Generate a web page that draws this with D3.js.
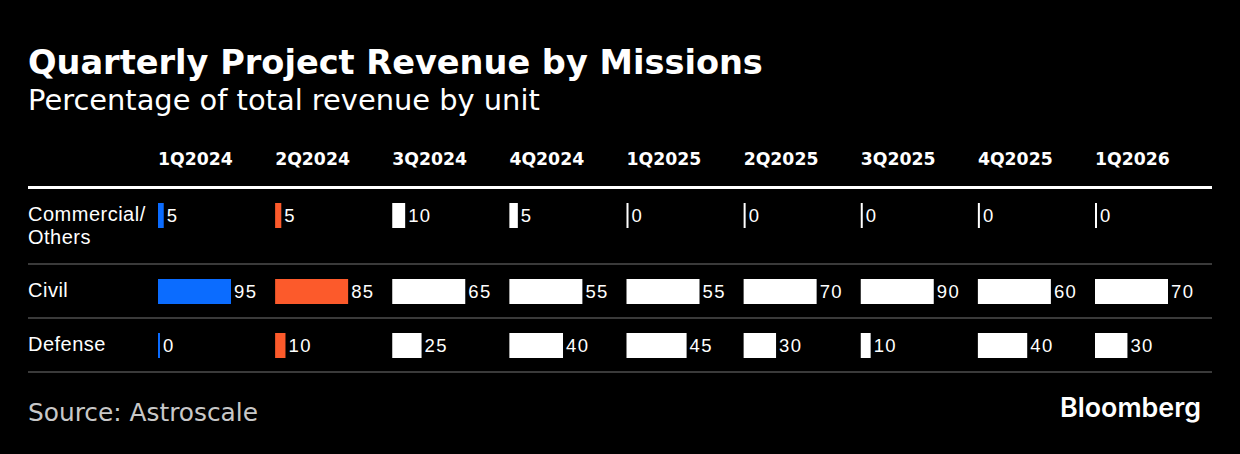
<!DOCTYPE html>
<html>
<head>
<meta charset="utf-8">
<script src="https://cdn.jsdelivr.net/npm/d3@7"></script>
<style>
  html, body { margin: 0; padding: 0; background: #000; }
  svg { display: block; }
</style>
</head>
<body>
<svg id="chart" width="1240" height="454"></svg>
<script>
// ---------- data ----------
const quarters = ["1Q2024", "2Q2024", "3Q2024", "4Q2024", "1Q2025", "2Q2025", "3Q2025", "4Q2025", "1Q2026"];
const units = ["Commercial/Others", "Civil", "Defense"];
const unitLabels = [["Commercial/", "Others"], ["Civil"], ["Defense"]];
const commercial = [5, 5, 10, 5, 0, 0, 0, 0, 0];
const civil = [95, 85, 65, 55, 55, 70, 90, 60, 70];
const defense = [0, 10, 25, 40, 45, 30, 10, 40, 30];
const series = [commercial, civil, defense];

const titleText = "Quarterly Project Revenue by Missions";
const subtitleText = "Percentage of total revenue by unit";
const sourceText = "Source: Astroscale";

// ---------- styles ----------
const columnColors = ["#0b6cff", "#fc5a2b"];
const defaultColor = "#ffffff";

(function () {
const svg = d3.select("#chart");
svg.append("rect").attr("width", 1240).attr("height", 454).attr("fill", "#000");

function fitText(sel, targetWidth) {
  const node = sel.node();
  const fs = parseFloat(sel.attr("font-size"));
  const w = node.getComputedTextLength();
  if (w > 0) sel.attr("font-size", (fs * targetWidth / w).toFixed(2));
  return sel;
}

// Title / subtitle
fitText(svg.append("text").text(titleText)
  .attr("x", 28).attr("y", 74)
  .attr("font-family", "DejaVu Sans").attr("font-weight", "bold")
  .attr("font-size", 32).attr("fill", "#fff"), 735);

fitText(svg.append("text").text(subtitleText)
  .attr("x", 28).attr("y", 110)
  .attr("font-family", "DejaVu Sans")
  .attr("font-size", 28).attr("fill", "#fff"), 512);

// ---------- layout ----------
const left = 28, right = 1212;
const x = d3.scalePoint().domain(quarters).range([158, 1095]);
const barMax = 71;
const barH = 25;

// Column headers
svg.append("g").selectAll("text").data(quarters).join("text")
  .attr("x", d => x(d)).attr("y", 165)
  .attr("font-family", "DejaVu Sans, sans-serif")
  .attr("font-weight", "bold").attr("font-size", 17.3)
  .attr("fill", "#fff")
  .text(d => d);

// Header rule
svg.append("rect").attr("x", left).attr("y", 186).attr("width", right - left).attr("height", 3).attr("fill", "#fff");

// Row layout
const rowTop0 = 188;
const baseRowH = 54, extraLine = 22;
const rows = [];
let yTop = rowTop0;
units.forEach((u, i) => {
  const h = baseRowH + (unitLabels[i].length - 1) * extraLine;
  rows.push({ unit: u, i, top: yTop, h, center: yTop + 27.5 });
  yTop += h;
});

// Separators
svg.append("g").selectAll("rect").data(rows).join("rect")
  .attr("x", left).attr("width", right - left)
  .attr("y", d => d.top + d.h - 1).attr("height", 2)
  .attr("fill", "#3a3a3a");

// Row labels
rows.forEach(r => {
  const t = svg.append("text")
    .attr("x", left).attr("y", r.center + 5.5)
    .attr("font-family", "Liberation Sans, Arial, sans-serif")
    .attr("font-size", 20).attr("letter-spacing", 0.5)
    .attr("fill", "#fff");
  unitLabels[r.i].forEach((line, k) => {
    t.append("tspan").attr("x", left).attr("dy", k === 0 ? 0 : 23).text(line);
  });
});

// Per-column scales (domain = column max)
const colScales = quarters.map((q, j) => {
  const mx = d3.max(series, s => s[j]);
  return d3.scaleLinear().domain([0, mx]).range([0, barMax]);
});

const cells = [];
rows.forEach(r => {
  quarters.forEach((q, j) => {
    cells.push({ row: r, q, j, v: series[r.i][j] });
  });
});

const cellG = svg.append("g").selectAll("g").data(cells).join("g");
cellG.append("rect")
  .attr("x", d => x(d.q))
  .attr("y", d => d.row.center - barH / 2)
  .attr("width", d => colScales[d.j](d.v) + 2)
  .attr("height", barH)
  .attr("fill", d => columnColors[d.j] || defaultColor);

cellG.append("text")
  .attr("x", d => x(d.q) + colScales[d.j](d.v) + 2 + 3)
  .attr("y", d => d.row.center + 6)
  .attr("font-family", "Liberation Sans, Arial, sans-serif")
  .attr("font-size", 18.5).attr("letter-spacing", 1.4)
  .attr("fill", "#fff")
  .text(d => d.v);

// Source
fitText(svg.append("text").text(sourceText)
  .attr("x", 28).attr("y", 421)
  .attr("font-family", "DejaVu Sans")
  .attr("font-size", 24).attr("fill", "#c8c8c8"), 230);

// Bloomberg logo text
fitText(svg.append("text").text("Bloomberg")
  .attr("x", 1060).attr("y", 417)
  .attr("font-family", "Inter, Liberation Sans, sans-serif")
  .attr("font-weight", 600)
  .attr("font-size", 25).attr("fill", "#fff"), 141);
})();
</script>
</body>
</html>
